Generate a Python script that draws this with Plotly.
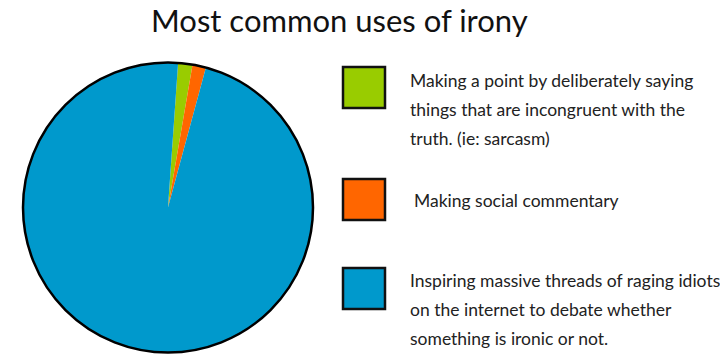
import plotly.graph_objects as go

title = "Most common uses of irony"
categories = [
    "Making a point by deliberately saying things that are incongruent with the truth. (ie: sarcasm)",
    "Making social commentary",
    "Inspiring massive threads of raging idiots on the internet to debate whether something is ironic or not.",
]
label_lines = [
    ["Making a point by deliberately saying", "things that are incongruent with the", "truth. (ie: sarcasm)"],
    ["Making social commentary"],
    ["Inspiring massive threads of raging idiots", "on the internet to debate whether", "something is ironic or not."],
]
values = [1.6, 1.5, 96.9]
colors = ["#99cc00", "#ff6600", "#0099cc"]

W, H = 720, 360
fig = go.Figure()
pie_domain = dict(x=[23 / W, 313 / W], y=[7.5 / H, 297.5 / H])
fig.add_trace(go.Pie(
    labels=categories, values=values, sort=False, direction="clockwise",
    rotation=4, marker=dict(colors=colors, line=dict(width=0)),
    textinfo="none", hoverinfo="label+percent", showlegend=False,
    domain=pie_domain,
))
# outline ring (single full slice, transparent fill)
fig.add_trace(go.Pie(
    values=[1], labels=["outline"], marker=dict(colors=["rgba(0,0,0,0)"], line=dict(color="black", width=2.5)),
    textinfo="none", hoverinfo="skip", showlegend=False, sort=False,
    domain=pie_domain,
))

# legend swatches + text
box_tops = [67, 179, 268]
text_tops = [80, 200, 280]
text_x = [408, 412, 408]
line_gap = 29
for i, c in enumerate(colors):
    fig.add_shape(type="rect", xref="paper", yref="paper",
                  x0=343 / W, x1=385 / W, y0=1 - (box_tops[i] + 41) / H, y1=1 - box_tops[i] / H,
                  fillcolor=c, line=dict(color="#111", width=2.5))
    for j, ln in enumerate(label_lines[i]):
        fig.add_annotation(xref="paper", yref="paper", x=text_x[i] / W,
                           y=1 - (text_tops[i] + j * line_gap) / H, text=ln, showarrow=False,
                           xanchor="left", yanchor="middle",
                           font=dict(family="Lato", size=17.5, color="#222"))

fig.add_annotation(xref="paper", yref="paper", x=339 / W, y=1 - 20 / H, text=title,
                   showarrow=False, xanchor="center", yanchor="middle",
                   font=dict(family="Lato", size=31, color="#111"))

fig.update_layout(width=W, height=H, margin=dict(l=0, r=0, t=0, b=0),
                  paper_bgcolor="white", plot_bgcolor="white")
fig.write_html("out.html")
